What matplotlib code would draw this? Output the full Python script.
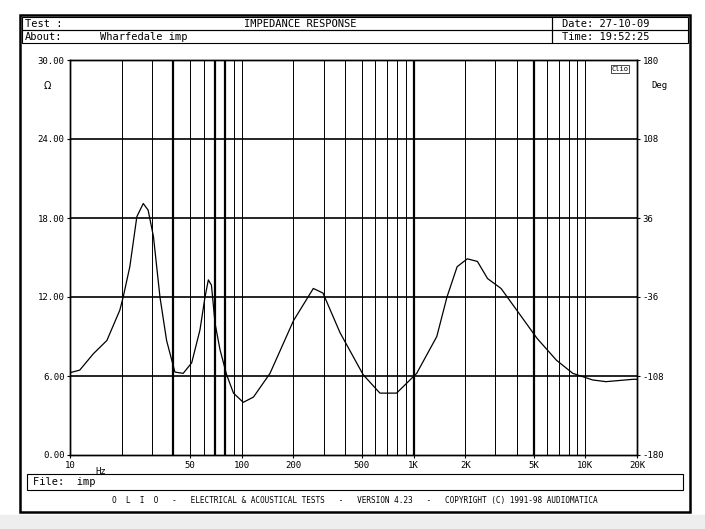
import numpy as np
import matplotlib.pyplot as plt
from matplotlib.patches import Rectangle

freq = [10, 11.4, 13.7, 16.4, 19.5, 20.4, 22.3, 24.5, 26.7, 28.5, 30.6, 33.4, 36.5,
        40.8, 45.6, 51.1, 57.1, 61.1, 63.9, 66.6, 69.9, 74.7, 81.6, 89.5, 102, 117,
        146, 200, 261, 297, 373, 509, 637, 797, 1043, 1366, 1566, 1794, 2056, 2355,
        2698, 3232, 4040, 5236, 6790, 8460, 11030, 13190, 19000, 20000]
ohm = [6.25, 6.45, 7.7, 8.7, 11.0, 12.0, 14.3, 18.1, 19.1, 18.6, 16.6, 12.0, 8.7,
       6.3, 6.2, 7.0, 9.5, 12.0, 13.3, 12.9, 10.0, 8.0, 6.1, 4.7, 4.0, 4.4,
       6.2, 10.2, 12.65, 12.3, 9.3, 6.1, 4.7, 4.7, 6.2, 9.0, 12.0, 14.3, 14.9, 14.7,
       13.4, 12.65, 10.9, 8.86, 7.2, 6.2, 5.7, 5.57, 5.75, 5.75]
xticks = [10, 50, 100, 200, 500, 1000, 2000, 5000, 10000, 20000]
xlabels = ["10", "50", "100", "200", "500", "1K", "2K", "5K", "10K", "20K"]
yticks = [0, 6, 12, 18, 24, 30]
deg_ticks = [-180, -108, -36, 36, 108, 180]

W, H = 705, 529
fig = plt.figure(figsize=(W / 100, H / 100), dpi=100)
fig.patch.set_facecolor("white")
mono = dict(family="DejaVu Sans Mono", fontsize=7.5, color="black")


def fx(px):
    return px / W


def fy(py):
    return 1 - py / H


def box(x0, y0, w, h, lw=0.8):
    fig.patches.append(Rectangle((fx(x0), fy(y0 + h)), fx(w), fy(y0) - fy(y0 + h),
                                 transform=fig.transFigure, fill=False, lw=lw, ec="black"))


# light gray strip at bottom
fig.patches.append(Rectangle((0, 0), 1, fy(515), transform=fig.transFigure,
                             color="#eeeeee", zorder=0))
box(20, 15, 670, 497, lw=1.8)
for (x0, y0, w, h) in [(22, 17, 530, 13), (22, 30, 530, 13), (552, 17, 136, 13), (552, 30, 136, 13)]:
    box(x0, y0, w, h)
fig.text(fx(25), fy(24), "Test :", va="center", **mono)
fig.text(fx(300), fy(24), "IMPEDANCE RESPONSE", va="center", ha="center", **mono)
fig.text(fx(25), fy(37), "About:", va="center", **mono)
fig.text(fx(100), fy(37), "Wharfedale imp", va="center", **mono)
fig.text(fx(562), fy(24), "Date: 27-10-09", va="center", **mono)
fig.text(fx(562), fy(37), "Time: 19:52:25", va="center", **mono)

box(27, 474, 656, 16)
fig.text(fx(33), fy(482), "File:  imp", va="center", **mono)
fig.text(fx(355), fy(501), "O  L  I  O   -   ELECTRICAL & ACOUSTICAL TESTS   -   VERSION 4.23   -   COPYRIGHT (C) 1991-98 AUDIOMATICA",
         va="center", ha="center", family="DejaVu Sans Mono", fontsize=5.6)

# plot axes
ax = fig.add_axes([fx(70), fy(455), fx(567), fy(60) - fy(455)])
ax.set_xscale("log")
ax.set_xlim(10, 20000)
ax.set_ylim(0, 30)

thick = {40, 70, 80, 1000, 5000}
for dec in [10, 100, 1000, 10000]:
    for m in range(1, 10):
        f = dec * m
        if 10 < f < 20000:
            ax.axvline(f, color="black", lw=1.6 if f in thick else 0.7)
for v in [6, 12, 18, 24]:
    ax.axhline(v, color="black", lw=1.2)

ax.plot(freq, ohm, color="black", lw=0.9)

ax.set_xticks(xticks)
ax.set_xticklabels(xlabels, family="DejaVu Sans Mono", fontsize=6.5)
ax.xaxis.set_minor_locator(plt.NullLocator())
ax.set_yticks(yticks)
ax.set_yticklabels([f"{v:.2f}" for v in yticks], family="DejaVu Sans Mono", fontsize=6.5)
ax.tick_params(length=2, width=0.8, pad=2)
ax.text(-0.04, 0.935, "Ω", transform=ax.transAxes, ha="center", va="center", fontsize=7)
ax.text(0.045, -0.03, "Hz", transform=ax.transAxes, ha="left", va="top",
        family="DejaVu Sans Mono", fontsize=6.5)

ax2 = ax.twinx()
ax2.set_ylim(-180, 180)
ax2.set_yticks(deg_ticks)
ax2.set_yticklabels([str(d) for d in deg_ticks], family="DejaVu Sans Mono", fontsize=6.5)
ax2.tick_params(length=2, width=0.8, pad=2)
ax2.text(1.04, 0.935, "Deg", transform=ax.transAxes, ha="center", va="center",
         family="DejaVu Sans Mono", fontsize=6.5)
ax.text(0.985, 0.985, "Clio", transform=ax.transAxes, ha="right", va="top",
        family="DejaVu Sans Mono", fontsize=5,
        bbox=dict(boxstyle="square,pad=0.1", fc="white", ec="black", lw=0.5))
for a in (ax, ax2):
    for s in a.spines.values():
        s.set_linewidth(1.0)

fig.savefig("out.png", dpi=100)
